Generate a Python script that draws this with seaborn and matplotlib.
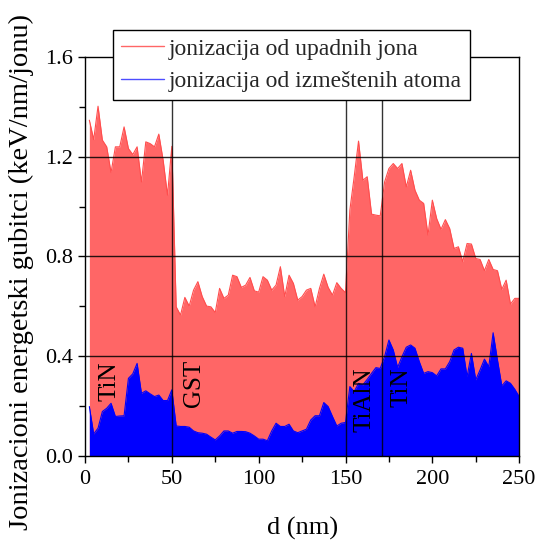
import numpy as np
import matplotlib
matplotlib.use('Agg')
import matplotlib.pyplot as plt
import seaborn as sns
from matplotlib.lines import Line2D
from matplotlib.ticker import MultipleLocator

# dubina (nm), korak 2.5 nm
d = np.arange(1, 101) * 2.5

# jonizacija od upadnih jona (keV/nm/jonu)
upadni_tin1 = [1.347, 1.269, 1.403, 1.267, 1.240, 1.137, 1.240, 1.240, 1.320, 1.233,
               1.209, 1.240, 1.099, 1.260, 1.253, 1.240, 1.291, 1.186, 1.046, 1.242]
upadni_gst = [0.598, 0.565, 0.636, 0.601, 0.665, 0.699, 0.639, 0.601, 0.598, 0.575,
              0.672, 0.632, 0.645, 0.725, 0.719, 0.676, 0.685, 0.716, 0.662, 0.657,
              0.719, 0.705, 0.665, 0.685, 0.759, 0.639, 0.725, 0.692, 0.625, 0.639,
              0.665, 0.672, 0.598, 0.672, 0.729, 0.676, 0.645, 0.695, 0.672, 0.655]
upadni_tialn_tin = [0.986, 1.120, 1.263, 1.106, 1.120, 0.970, 0.966, 0.963, 1.099, 1.153,
                    1.173, 1.153, 1.173, 1.079, 1.146, 1.066, 1.026, 1.013, 0.886, 1.026,
                    0.952, 0.909, 0.948, 0.912, 0.832, 0.839, 0.779, 0.852, 0.850, 0.792,
                    0.788, 0.743, 0.788, 0.748, 0.743, 0.668, 0.705, 0.609, 0.632, 0.632]

# jonizacija od izmeštenih atoma (keV/nm/jonu)
izmesteni_tin1 = [0.198, 0.088, 0.111, 0.178, 0.191, 0.211, 0.158, 0.160, 0.161, 0.311,
                  0.329, 0.371, 0.251, 0.261, 0.249, 0.238, 0.244, 0.222, 0.222, 0.265]
izmesteni_gst = [0.120, 0.118, 0.118, 0.115, 0.100, 0.093, 0.091, 0.087, 0.075, 0.064,
                 0.080, 0.100, 0.100, 0.091, 0.098, 0.098, 0.097, 0.091, 0.080, 0.067,
                 0.067, 0.061, 0.100, 0.131, 0.118, 0.118, 0.127, 0.100, 0.093, 0.100,
                 0.107, 0.144, 0.161, 0.161, 0.214, 0.198, 0.158, 0.120, 0.131, 0.134]
izmesteni_tialn_tin = [0.278, 0.258, 0.291, 0.285, 0.307, 0.331, 0.354, 0.351, 0.398, 0.465,
                       0.425, 0.355, 0.398, 0.436, 0.445, 0.432, 0.378, 0.331, 0.338, 0.334,
                       0.321, 0.349, 0.349, 0.378, 0.425, 0.436, 0.432, 0.318, 0.411, 0.305,
                       0.345, 0.388, 0.358, 0.494, 0.385, 0.281, 0.301, 0.291, 0.267, 0.238]

upadni = np.array(upadni_tin1 + upadni_gst + upadni_tialn_tin)
izmesteni = np.array(izmesteni_tin1 + izmesteni_gst + izmesteni_tialn_tin)

# granice slojeva i oznake
granice = [50, 150, 171]
slojevi = ['TiN', 'GST', 'TiAlN', 'TiN']
sloj_x = [14.2, 63, 161.2, 182.4]
sloj_y = [0.30, 0.29, 0.225, 0.275]

sns.set_theme(style='ticks')
plt.rcParams['font.family'] = ['Liberation Serif', 'DejaVu Serif']

fig = plt.figure(figsize=(5.38, 5.44), dpi=100)
ax = fig.add_axes([0.158, 0.162, 0.807, 0.733])

crvena = '#ff6666'
plava = '#0000ff'

ax.fill_between(d, 0, upadni, color=crvena, lw=0, zorder=1)
sns.lineplot(x=d, y=upadni, color='#ff4d4d', lw=0.8, ax=ax, zorder=1.5)
ax.fill_between(d, 0, izmesteni, color=plava, lw=0, zorder=2)
sns.lineplot(x=d, y=izmesteni, color=plava, lw=0.8, ax=ax, zorder=2.5)

for yv in [0.4, 0.8, 1.2]:
    ax.axhline(yv, color='black', lw=1.0, alpha=0.85, zorder=3)
for xv in granice:
    ax.axvline(xv, color='black', lw=1.0, alpha=0.8, zorder=3)

for txt, xs, ys in zip(slojevi, sloj_x, sloj_y):
    ax.text(xs, ys, txt, rotation=90, ha='center', va='center',
            fontsize=18, color='black', zorder=4)

ax.set_xlim(0, 250)
ax.set_ylim(0, 1.6)
ax.xaxis.set_major_locator(MultipleLocator(50))
ax.xaxis.set_minor_locator(MultipleLocator(25))
ax.yaxis.set_major_locator(MultipleLocator(0.4))
ax.yaxis.set_minor_locator(MultipleLocator(0.2))
ax.yaxis.set_major_formatter(matplotlib.ticker.FormatStrFormatter('%.1f'))
ax.tick_params(which='both', direction='out', color='black', width=1, labelsize=16,
               labelcolor='black')
ax.tick_params(which='major', length=5)
ax.tick_params(which='minor', length=4)
ax.tick_params(axis='x', pad=5)
for s in ax.spines.values():
    s.set_color('black')
    s.set_linewidth(1)
    s.set_zorder(5)

ax.set_xlabel('d (nm)', fontsize=19, color='black', labelpad=20)
ax.set_ylabel('Jonizacioni energetski gubitci (keV/nm/jonu)', fontsize=20.5,
              color='black')
ax.yaxis.set_label_coords(-0.118, 0.46)

handles = [Line2D([], [], color=crvena, lw=1),
           Line2D([], [], color='#4d4dff', lw=1)]
fig.legend(handles, ['jonizacija od upadnih jona', 'jonizacija od izmeštenih atoma'],
           loc='upper left', bbox_to_anchor=(0.21, 0.945), fontsize=17,
           frameon=True, fancybox=False, shadow=False, edgecolor='black',
           facecolor='white', framealpha=1, borderpad=0.35, labelspacing=0.45,
           handlelength=1.8, handletextpad=0.2, borderaxespad=0)

fig.savefig('out.png', dpi=100)
